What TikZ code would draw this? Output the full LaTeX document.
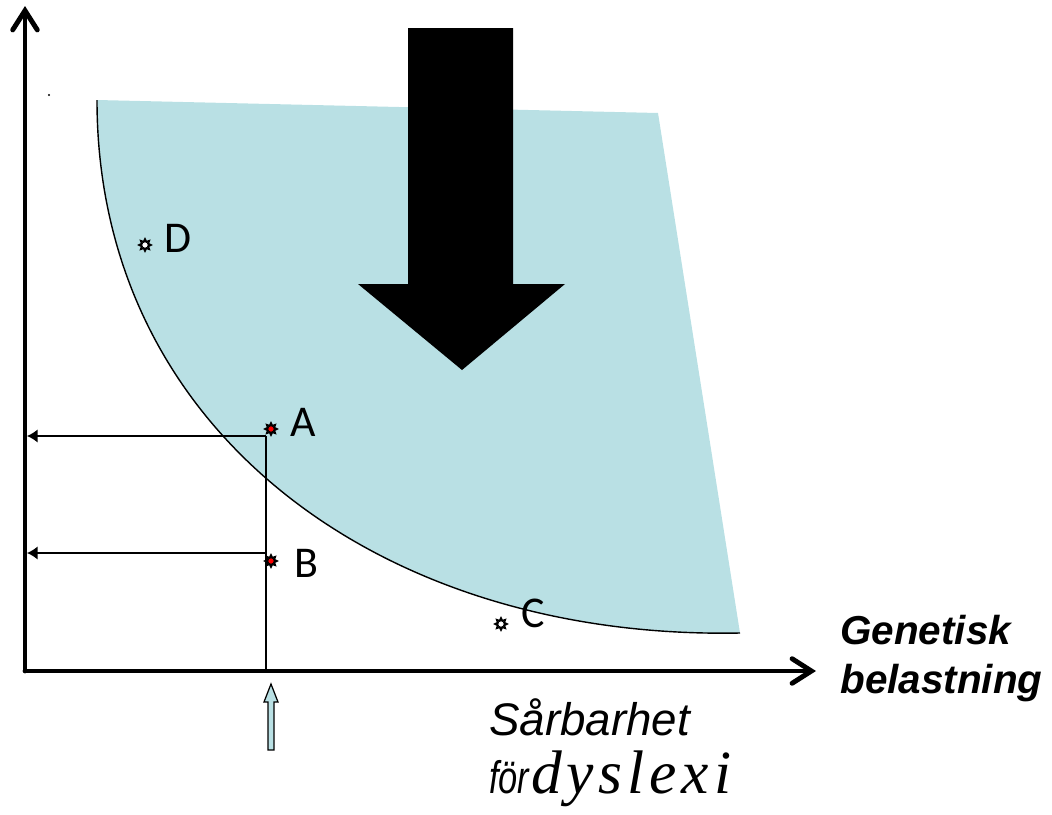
\documentclass[tikz,border=0pt]{standalone}
\usepackage{fontspec}
\setmainfont{Liberation Sans}
\newfontfamily\labelfont{Carlito}
\newfontfamily\dysfont[LetterSpace=8]{Liberation Serif}
\usetikzlibrary{arrows.meta,shapes.geometric}
\definecolor{regionblue}{RGB}{185,224,228}
\tikzset{
  axis/.style={line width=2.8pt,line cap=round,-{Straight Barb[length=11pt,width=14pt,line cap=round]}},
  guide/.style={line width=0.8pt,-{Latex[length=6pt,width=7.5pt]}},
  marker/.style={star,star points=8,star point ratio=1.7,minimum size=6.5pt,inner sep=0pt,draw=black,line width=1.1pt},
  ptlabel/.style={font=\labelfont\fontsize{25}{30}\selectfont,anchor=west,inner sep=0pt},
}
\begin{document}
\begin{tikzpicture}[x=0.02cm,y=-0.02cm]
\useasboundingbox (0,0) rectangle (1052,815);
\fill[regionblue] (97,100) -- (658,113) -- (740,633) .. controls (380,640) and (97,430) .. (97,100) -- cycle;
\draw[line width=0.8pt] (740,633) .. controls (380,640) and (97,430) .. (97,100);
\fill[black] (408,28) -- (513,28) -- (513,284) -- (565,284) -- (462,370) -- (358,284) -- (408,284) -- cycle;
\fill (49,95) circle (0.6pt);
\coordinate (o) at (25,671); \coordinate (ytop) at (25,6); \coordinate (xend) at (816,671);
\draw[axis] (o) -- (ytop);
\draw[axis] (o) -- (xend);
\foreach \n/\y in {a/436,b/553} { \coordinate (cut\n) at (266,\y); \coordinate (left\n) at (27,\y); \draw[guide] (cut\n) -- (left\n); }
\coordinate (foot) at (266,671);
\draw[line width=0.8pt] (cuta) -- (foot);
\foreach \n/\x/\y/\c in {D/145/245/white,A/271/429/red,B/271/561/red,C/501/624/white} { \node[marker,fill=\c] (\n) at (\x,\y) {}; }
\foreach \n/\x/\y in {D/164/238,A/290/422,B/294/563,C/521/613} { \node[ptlabel] (lab\n) at (\x,\y) {\n}; }
\draw[fill=regionblue,line width=0.7pt,line join=miter] (268,750) -- (274,750) -- (274,702) -- (278,702) -- (271,684) -- (264,702) -- (268,702) -- cycle;
\node[font=\bfseries\itshape\fontsize{23}{28}\selectfont,anchor=base west,inner sep=0pt] (gen) at (840,644) {Genetisk};
\node[font=\bfseries\itshape\fontsize{23}{28}\selectfont,anchor=base west,inner sep=0pt] (bel) at (840,693) {belastning};
\node[font=\itshape\fontsize{26}{31}\selectfont,anchor=base west,inner sep=0pt] (sar) at (489,735) {Sårbarhet};
\node[font=\itshape\fontsize{26}{31}\selectfont,anchor=base west,inner sep=0pt] (dys) at (489,793) {\scalebox{0.75}[1]{för}\kern1pt{\dysfont\itshape\fontsize{35}{40}\selectfont dyslexi}};
\end{tikzpicture}
\end{document}
